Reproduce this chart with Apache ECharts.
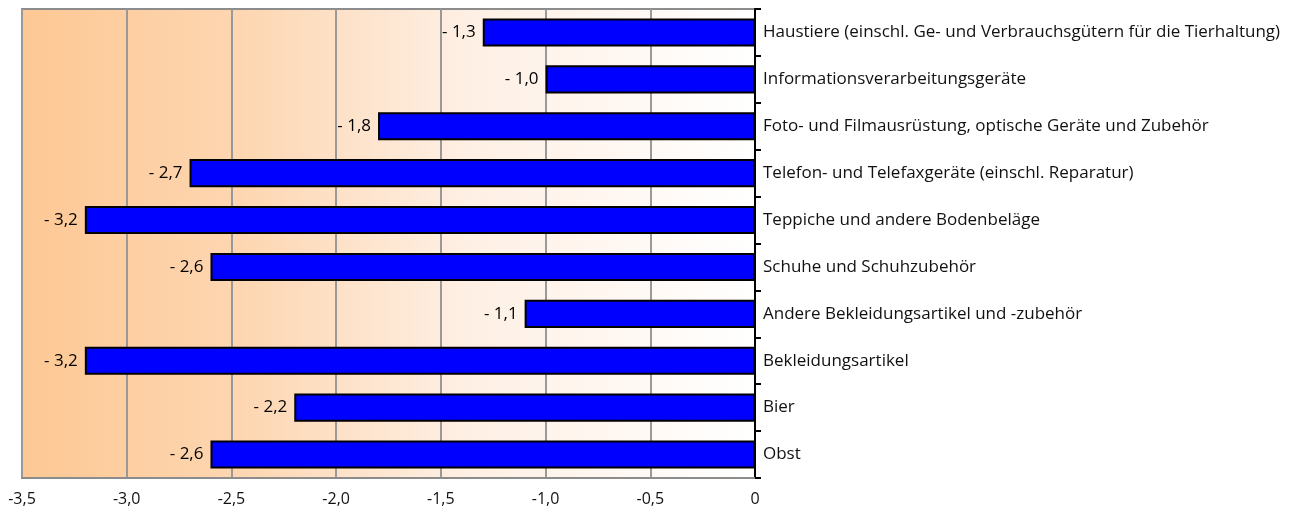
<!DOCTYPE html>
<html>
<head>
<meta charset="utf-8">
<script src="https://cdn.jsdelivr.net/npm/echarts@6/dist/echarts.min.js"></script>
<style>
  html, body { margin: 0; padding: 0; background: #fff; }
  #chart { width: 1298px; height: 518px; }
</style>
</head>
<body>
<div id="chart"></div>
<script>
// categories from top to bottom
var categories = [
    'Haustiere (einschl. Ge- und Verbrauchsgütern für die Tierhaltung)',
    'Informationsverarbeitungsgeräte',
    'Foto- und Filmausrüstung, optische Geräte und Zubehör',
    'Telefon- und Telefaxgeräte (einschl. Reparatur)',
    'Teppiche und andere Bodenbeläge',
    'Schuhe und Schuhzubehör',
    'Andere Bekleidungsartikel und -zubehör',
    'Bekleidungsartikel',
    'Bier',
    'Obst'
];
var values = [-1.3, -1.0, -1.8, -2.7, -3.2, -2.6, -1.1, -3.2, -2.2, -2.6];

var fontFamily = '"Open Sans", "DejaVu Sans", sans-serif';

function fmtAxis(v) {
    if (v === 0) return '0';
    return v.toFixed(1).replace('.', ',');
}
function fmtLabel(v) {
    return '- ' + Math.abs(v).toFixed(1).replace('.', ',');
}

var chart = echarts.init(document.getElementById('chart'));
var options = {
    animation: false,
    textStyle: {fontFamily: fontFamily},
    grid: {
        left: 22, right: 543, top: 9, bottom: 40,
        show: true,
        borderColor: '#8c8c8c',
        borderWidth: 2,
        backgroundColor: new echarts.graphic.LinearGradient(0, 0, 1, 0, [
            {offset: 0, color: '#FDC894'},
            {offset: 0.3, color: '#FDD6B1'},
            {offset: 0.6, color: '#FEEFE3'},
            {offset: 1, color: '#FFFFFF'}
        ])
    },
    xAxis: {
        type: 'value',
        min: -3.5,
        max: 0,
        interval: 0.5,
        axisLine: {show: true, lineStyle: {color: '#8c8c8c', width: 2}},
        axisTick: {show: false},
        splitLine: {show: true, lineStyle: {color: '#999', width: 2}},
        axisLabel: {
            color: '#111', fontSize: 16, margin: 13, fontFamily: fontFamily,
            formatter: fmtAxis
        }
    },
    yAxis: {
        type: 'category',
        position: 'right',
        inverse: true,
        data: categories,
        axisLine: {show: true, onZero: false, lineStyle: {color: '#000', width: 2}},
        axisTick: {show: true, length: 6, inside: false, lineStyle: {color: '#000', width: 2}},
        splitLine: {show: false},
        axisLabel: {color: '#111', fontSize: 17, margin: 8, fontFamily: fontFamily}
    },
    series: [{
        type: 'bar',
        data: values,
        barCategoryGap: '40%',
        itemStyle: {color: '#0000FF', borderColor: '#000', borderWidth: 2},
        label: {
            show: true,
            position: 'left',
            distance: 7,
            color: '#000',
            fontSize: 17,
            fontFamily: fontFamily,
            formatter: function (p) { return fmtLabel(p.value); }
        }
    }]
};
chart.setOption(options);
</script>
</body>
</html>
